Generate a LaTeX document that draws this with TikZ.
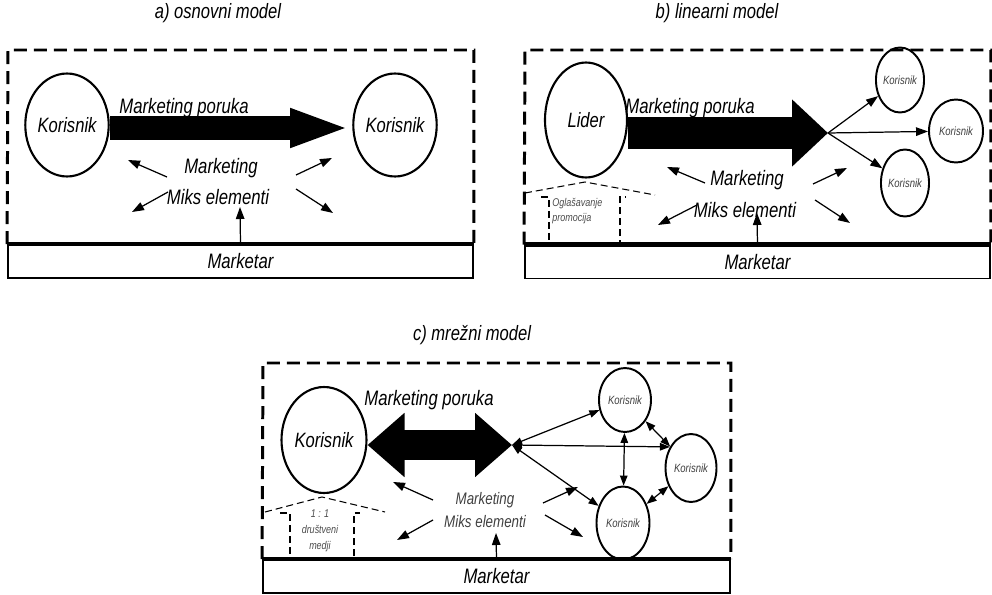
\documentclass[tikz,border=0pt]{standalone}
\usepackage{fontspec}
\setmainfont{Liberation Sans}[FakeStretch=0.8]
\usetikzlibrary{arrows.meta,shapes.geometric}
\tikzset{
  % panel title
  title/.style={font=\fontsize{11.8}{13}\selectfont\itshape, inner sep=0pt},
  % plain italic label
  lbl/.style={font=\fontsize{11.9}{13}\selectfont\itshape, inner sep=0pt},
  lbl small/.style={font=\fontsize{9.5}{11}\selectfont\itshape, text=black!75, inner sep=0pt},
  % users
  user/.style={ellipse, draw, line width=1.2pt, inner sep=0pt,
    font=\fontsize{11.8}{13}\selectfont\itshape},
  user small/.style={user, line width=1.1pt,
    font=\fontsize{6.8}{8}\selectfont\itshape, text=black!75},
  % marketer bar
  marketar/.style={rectangle, draw, line width=1.1pt, inner sep=0pt,
    minimum height=0.66cm, font=\fontsize{11.9}{13}\selectfont\itshape},
  mtop/.style={line width=2.4pt},
  % dashed frame and dashed house
  frame/.style={line width=1.7pt, dash pattern=on 0.26cm off 0.14cm},
  house/.style={line width=0.6pt, dash pattern=on 0.14cm off 0.08cm},
  housetxt/.style={font=\fontsize{6.4}{9}\selectfont\itshape, text=black!70, inner sep=0pt},
  % arrows
  tarrow/.style={-{Triangle[length=0.24cm,width=0.17cm]}, line width=0.7pt},
  darrow/.style={{Triangle[length=0.2cm,width=0.15cm]}-{Triangle[length=0.2cm,width=0.15cm]}, line width=0.7pt},
  big a/.style={line width=0.48cm, -{Triangle[length=1.2cm,width=0.7cm]}},
  big b/.style={line width=0.64cm, -{Triangle[length=0.72cm,width=1.3cm]}},
  big c/.style={line width=0.6cm, {Triangle[length=0.74cm,width=1.24cm]}-{Triangle[length=0.74cm,width=1.24cm]}},
}

\begin{document}
\begin{tikzpicture}[x=0.02cm, y=-0.02cm]
  \useasboundingbox (0,0) rectangle (992,595);

  %% a) osnovni model
  \node[title] (ta) at (218,13) {a) osnovni model};
  \node[marketar, minimum width=9.3cm] (ma) at (240.5,261.5) {Marketar};
  \coordinate (fa) at (8,50);
  \draw[frame] (ma.north west) -- (fa) -| (ma.north east);
  \draw[mtop] (ma.north west) -- (ma.north east);

  \node[user, minimum width=1.66cm, minimum height=2.06cm] (ka1) at (67,125) {Korisnik};
  \node[user, minimum width=1.66cm, minimum height=2.06cm] (ka2) at (395,125) {Korisnik};
  \coordinate (tipa) at (350,128);
  \draw[big a] (ka1.east |- tipa) -- (tipa);
  \node[lbl] (pa) at (184,108) {Marketing poruka};

  \node[lbl] (mka) at (221,168) {Marketing};
  \node[lbl] (mxa) at (218,197) {Miks elementi};
  \coordinate (mua) at (240,207);
  \draw[tarrow] (ma.north) -- (mua);
  \foreach \i/\sx/\sy/\ex/\ey in {1/167/177/128/160, 2/168/192/132/212,
                                  3/296/175/332/158, 4/296/189/333/213} {
    \coordinate (a\i s) at (\sx,\sy);
    \coordinate (a\i e) at (\ex,\ey);
    \draw[tarrow] (a\i s) -- (a\i e);
  }

  %% b) linearni model
  \node[title] (tb) at (717,13) {b) linearni model};
  \node[marketar, minimum width=9.3cm] (mb) at (757.5,262) {Marketar};
  \coordinate (fb) at (525,50);
  \draw[frame] (mb.north west) -- (fb) -| (mb.north east);
  \draw[mtop] (mb.north west) -- (mb.north east);

  \node[user, minimum width=1.64cm, minimum height=2.3cm] (lider) at (586,120) {Lider};
  \coordinate (hub) at (828,133);
  \draw[big b] (lider.east |- hub) -- (hub);
  \node[lbl] (pb) at (690,108) {Marketing poruka};

  \node[user small, minimum width=0.92cm, minimum height=1.3cm] (kb1) at (900,80) {Korisnik};
  \node[user small, minimum width=1.08cm, minimum height=1.26cm] (kb2) at (956,131) {Korisnik};
  \node[user small, minimum width=0.96cm, minimum height=1.34cm] (kb3) at (905,183) {Korisnik};
  \draw[tarrow] (hub) -- (kb1);
  \draw[tarrow] (hub) -- (kb2);
  \draw[tarrow] (hub) -- (kb3);

  \node[lbl] (mkb) at (747,180) {Marketing};
  \node[lbl] (mxb) at (745,210) {Miks elementi};
  \coordinate (mub) at (757,213);
  \draw[tarrow] (mb.north) -- (mub);
  \foreach \i/\sx/\sy/\ex/\ey in {1/705/183/667/167, 2/697/205/658/225,
                                  3/813/184/847/168, 4/815/200/850/223} {
    \coordinate (b\i s) at (\sx,\sy);
    \coordinate (b\i e) at (\ex,\ey);
    \draw[tarrow] (b\i s) -- (b\i e);
  }

  % advertising house
  \draw[house] (525,193) -- (585,182) -- (655,195);
  \draw[house] (541,197) -- (549,197) -- (549,243) -- (620,243) -- (620,197) -- (626,197);
  \node[housetxt, align=left, anchor=west] (ogl) at (552,211) {Oglašavanje\\promocija};

  %% c) mrezni model
  \node[title] (tc) at (472,335) {c) mrežni model};
  \node[marketar, minimum width=9.34cm] (mc) at (496.5,576.5) {Marketar};
  \coordinate (fc) at (263,363);
  \draw[frame] (mc.north west) -- (fc) -| (mc.north east);
  \draw[mtop] (mc.north west) -- (mc.north east);

  \node[user, minimum width=1.7cm, minimum height=2.12cm] (kc) at (324,440) {Korisnik};
  \coordinate (hubc) at (512,445);
  \draw[big c] (kc.east |- hubc) -- (hubc);
  \node[lbl] (pc) at (429,400) {Marketing poruka};

  \node[user small, minimum width=1.04cm, minimum height=1.28cm] (kc1) at (625,400) {Korisnik};
  \node[user small, minimum width=1.02cm, minimum height=1.36cm] (kc2) at (691,468) {Korisnik};
  \node[user small, minimum width=1.06cm, minimum height=1.46cm] (kc3) at (623,523) {Korisnik};
  \draw[darrow] (hubc) -- (kc1);
  \draw[darrow] (hubc) -- (kc2.135);
  \draw[darrow] (hubc) -- (kc3);
  \draw[darrow] (kc1) -- (kc3);
  \draw[darrow] (kc1) -- (kc2);
  \draw[darrow] (kc3) -- (kc2);

  \node[lbl small] (mkc) at (485,500) {Marketing};
  \node[lbl small] (mxc) at (485,522) {Miks elementi};
  \coordinate (muc) at (496,533);
  \draw[tarrow] (mc.north) -- (muc);
  \foreach \i/\sx/\sy/\ex/\ey in {1/433/500/393/482, 2/433/520/397/540,
                                  3/543/503/578/487, 4/545/515/583/537} {
    \coordinate (c\i s) at (\sx,\sy);
    \coordinate (c\i e) at (\ex,\ey);
    \draw[tarrow] (c\i s) -- (c\i e);
  }

  % social media house
  \draw[house] (265,512) -- (322,497) -- (385,512);
  \draw[house] (280,513) -- (290,513) -- (290,558) -- (354,558) -- (354,513) -- (360,513);
  \node[housetxt, align=center] (dm) at (320,531) {1 : 1\\društveni\\medji};

\end{tikzpicture}
\end{document}
